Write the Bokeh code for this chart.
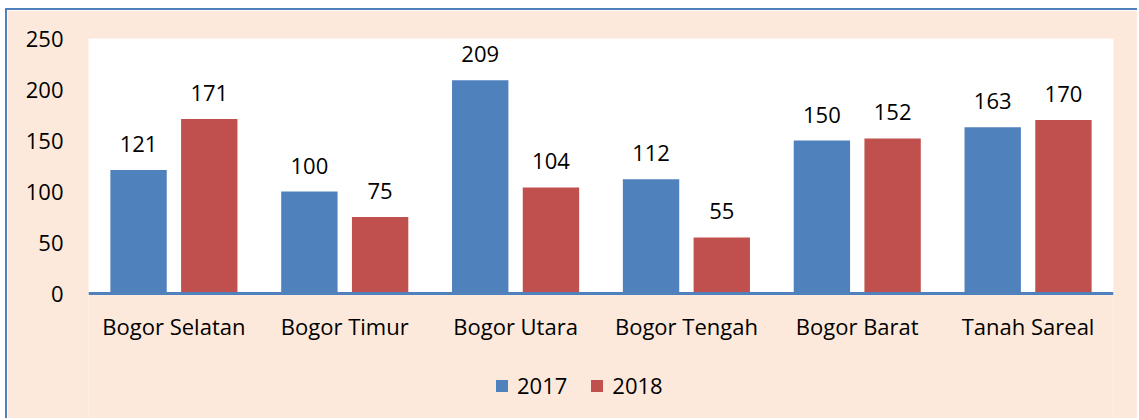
from bokeh.plotting import figure
from bokeh.models import (ColumnDataSource, FactorRange, LabelSet, Legend, LegendItem, Range1d,
                          FixedTicker, BoxAnnotation)
from bokeh.core.properties import value
from bokeh.transform import dodge
from bokeh.embed import file_html
from bokeh.resources import INLINE

categories = ["Bogor Selatan", "Bogor Timur", "Bogor Utara", "Bogor Tengah", "Bogor Barat", "Tanah Sareal"]
values_2017 = [121, 100, 209, 112, 150, 163]
values_2018 = [171, 75, 104, 55, 152, 170]
series_names = ["2017", "2018"]
y_ticks = [0, 50, 100, 150, 200, 250]
Y_MAX = 250

BLUE = "#4F81BD"
RED = "#C0504D"
PEACH = "#FDE9DB"
FRAME = "#4F81BD"
FONT = "Open Sans"

source = ColumnDataSource(dict(
    cat=categories,
    v2017=values_2017,
    v2018=values_2018,
    t2017=[str(v) for v in values_2017],
    t2018=[str(v) for v in values_2018],
))

# frame runs down to the bottom edge; the value axis keeps 1.02 px per unit
PX_PER_UNIT = 255 / Y_MAX
p = figure(
    x_range=FactorRange(*categories),
    y_range=Range1d(-127 / PX_PER_UNIT, Y_MAX),
    width=1132, height=410,
    output_backend="svg", toolbar_location=None,
    min_border_left=81, min_border_top=28, min_border_right=26, min_border_bottom=0,
)
p.styles = {
    "border-left": "2px solid " + FRAME,
    "border-top": "2px solid " + FRAME,
    "margin-left": "5px",
    "margin-top": "8px",
}
p.border_fill_color = PEACH
p.background_fill_color = PEACH
p.outline_line_color = None
p.xgrid.grid_line_color = None
p.ygrid.grid_line_color = None

# white plot area from 0 to the top value
p.add_layout(BoxAnnotation(bottom=0, top=Y_MAX, fill_color="white", fill_alpha=1,
                           line_color=None, level="underlay"))

OFF = 0.207
W = 0.33
r1 = p.vbar(x=dodge("cat", -OFF, range=p.x_range), top="v2017", width=W, source=source,
            fill_color=BLUE, line_color=None)
r2 = p.vbar(x=dodge("cat", OFF, range=p.x_range), top="v2018", width=W, source=source,
            fill_color=RED, line_color=None)

for key, off in (("2017", -OFF), ("2018", OFF)):
    lbl = LabelSet(x=dodge("cat", off, range=p.x_range), y="v" + key, text="t" + key, source=source,
                   text_align="center", text_baseline="alphabetic", y_offset=18,
                   text_font=value(FONT), text_font_size="22px", text_color="black")
    p.add_layout(lbl)

# axes
p.xaxis.fixed_location = 0
p.xaxis.axis_line_color = FRAME
p.xaxis.axis_line_width = 3
p.xaxis.major_tick_line_color = None
p.xaxis.major_tick_out = 0
p.xaxis.major_tick_in = 0
p.xaxis.minor_tick_line_color = None
p.xaxis.major_label_standoff = 17
p.xaxis.major_label_text_font = FONT
p.xaxis.major_label_text_font_size = "22px"
p.xaxis.major_label_text_color = "black"

p.yaxis.ticker = FixedTicker(ticks=y_ticks)
p.yaxis.axis_line_color = None
p.yaxis.major_tick_line_color = None
p.yaxis.major_tick_out = 0
p.yaxis.major_tick_in = 0
p.yaxis.minor_tick_line_color = None
p.yaxis.major_label_standoff = 25
p.yaxis.major_label_text_font = FONT
p.yaxis.major_label_text_font_size = "22px"
p.yaxis.major_label_text_color = "black"

legend = Legend(
    items=[LegendItem(label=series_names[0], renderers=[r1]),
           LegendItem(label=series_names[1], renderers=[r2])],
    orientation="horizontal",
    location=(406, 20),
    glyph_width=15, glyph_height=15,
    label_standoff=8, spacing=22, padding=0, margin=0,
    border_line_color=None, background_fill_alpha=0,
    label_text_font=FONT, label_text_font_size="22px", label_text_color="black",
)
p.add_layout(legend)

open("out.html", "w").write(file_html(p, INLINE))
